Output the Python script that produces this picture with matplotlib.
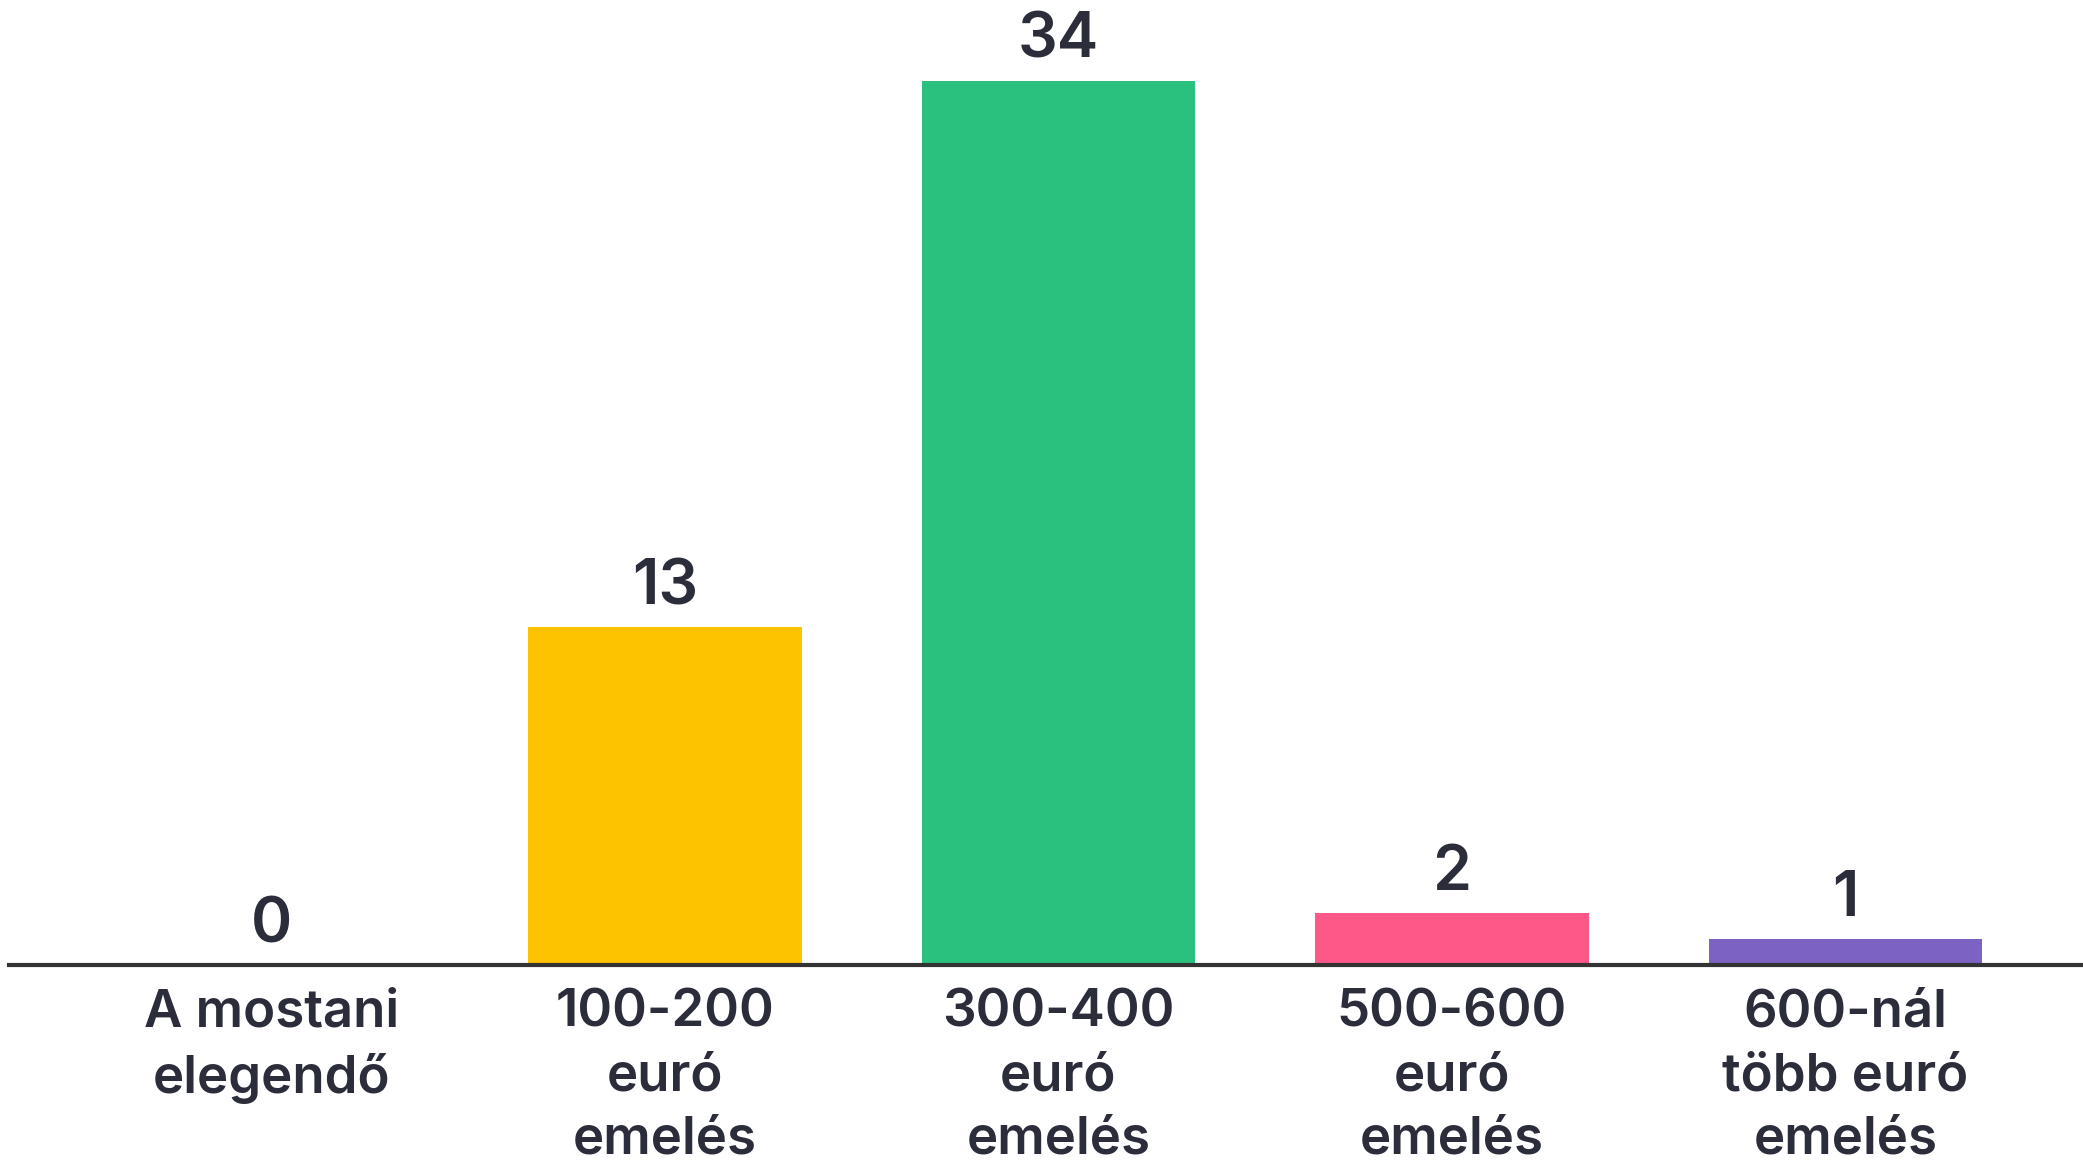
import matplotlib.pyplot as plt

# adatok
categories = ['A mostani\nelegendő', '100-200\neuró\nemelés', '300-400\neuró\nemelés',
              '500-600\neuró\nemelés', '600-nál\ntöbb euró\nemelés']
values = [0, 13, 34, 2, 1]
colors = ['#29C17D', '#FDC300', '#29C17D', '#FE5889', '#7C62C3']

text_color = '#2B2D3A'
plt.rcParams['font.family'] = ['Inter', 'DejaVu Sans']

fig = plt.figure(figsize=(20.83, 11.64), dpi=100)
ax = fig.add_axes([0, 199 / 1164, 1, 965 / 1164])

x = list(range(len(values)))
bars = ax.bar(x, values, width=0.695, color=colors, zorder=2)

for xi, v in zip(x, values):
    ax.annotate(str(v), (xi, v), xytext=(0, 7), textcoords='offset points',
                ha='center', va='bottom', fontsize=45, fontweight='semibold',
                color=text_color)

ax.set_xlim(-0.690, 4.604)
ax.set_ylim(0, 37.1)
ax.set_xticks(x)
ax.set_xticklabels(categories, fontsize=38, fontweight='semibold', color=text_color,
                   linespacing=1.38)
ax.tick_params(axis='x', length=0, pad=17)
ax.set_yticks([])
for side in ['top', 'right', 'left']:
    ax.spines[side].set_visible(False)
ax.spines['bottom'].set_color('#333333')
ax.spines['bottom'].set_linewidth(3)
ax.spines['bottom'].set_bounds(-0.667, 4.604)

fig.savefig('out.png', dpi=100)
